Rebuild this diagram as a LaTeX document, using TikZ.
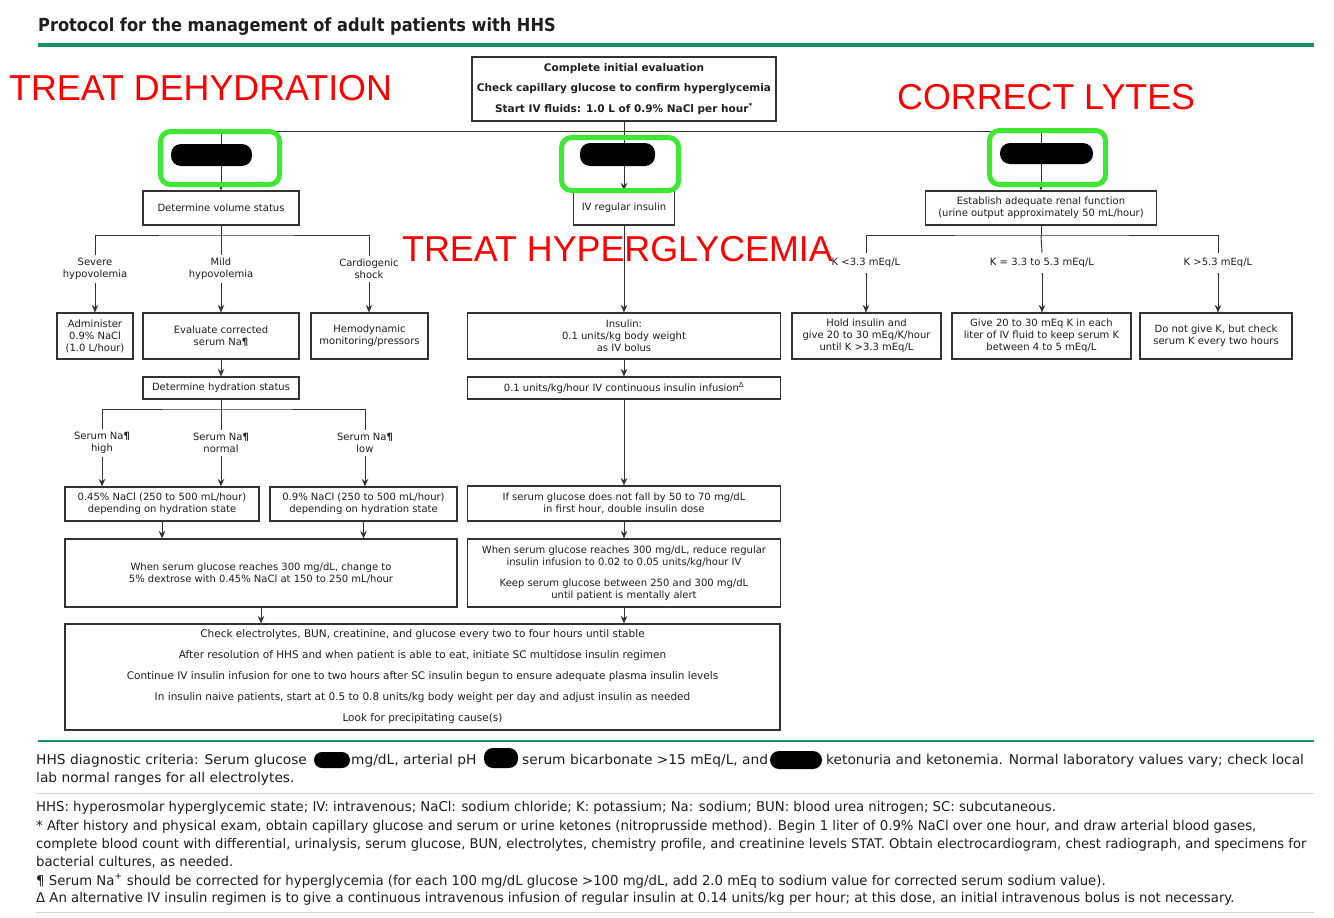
\documentclass[tikz,border=0pt]{standalone}
\usepackage{fontspec}
\setmainfont{DejaVu Sans}
\newfontfamily\footfont[FakeStretch=0.982]{DejaVu Sans}
\newfontfamily\footwidefont[FakeStretch=1.02]{DejaVu Sans}
\newfontfamily\redfont[FakeStretch=0.995]{Liberation Sans}
\newfontfamily\titlefont[FakeStretch=0.9]{DejaVu Sans}
\usetikzlibrary{arrows.meta,calc}
\definecolor{hhsgreen}{RGB}{22,145,105}
\definecolor{hiligreen}{RGB}{60,232,50}
\definecolor{linegray}{RGB}{50,50,50}
\definecolor{sepgray}{RGB}{212,212,212}
\definecolor{txt}{RGB}{30,30,30}
\begin{document}
\begin{tikzpicture}[x=1pt,y=-1pt,
  box/.style={draw=linegray, line width=1.1pt, align=center, inner sep=1pt, text=txt,
    font=\fontsize{10}{12}\selectfont},
  sz/.style 2 args={minimum width=#1pt, minimum height=#2pt},
  lbl/.style={align=center, inner sep=3pt, text=txt, font=\fontsize{10}{12}\selectfont},
  klbl/.style={lbl, inner sep=5pt},
  conn/.style={draw=linegray, line width=0.9pt},
  arr/.style={conn, -{Stealth[length=7.5pt,width=6.5pt]}},
  hili/.style={draw=hiligreen, line width=5pt, rounded corners=10pt},
  redtxt/.style={text=red, inner sep=0pt, anchor=base west, font=\redfont\fontsize{36}{40}\selectfont},
  foot/.style={inner sep=0pt, anchor=base west, text=txt, font=\footfont\fontsize{13.5}{18}\selectfont},
  footw/.style={foot, font=\footwidefont\fontsize{13.5}{18}\selectfont},
]
\useasboundingbox (0,0) rectangle (1334,918);
\fill[white] (0,0) rectangle (1334,918);

% title
\node[inner sep=0pt, anchor=base west, text=txt, font=\titlefont\bfseries\fontsize{18}{20}\selectfont] (title) at (38,31) {Protocol for the management of adult patients with HHS};
\draw[hhsgreen, line width=4pt] (38,44.5) -- (1314,44.5);

% top
\node[box, sz={304}{64}, font=\bfseries\fontsize{10.5}{20.5}\selectfont] (top) at (624,89) {Complete initial evaluation\\Check capillary glucose to confirm hyperglycemia\\Start IV fluids: 1.0 L of 0.9\% NaCl per hour\textsuperscript{*}};

\node[box, sz={156}{34}] (vol) at (221,208) {Determine volume status};
\node[box, sz={101}{34}] (ivr) at (624,208) {IV regular insulin};
\node[box, sz={231}{34}] (renal) at (1041,208) {Establish adequate renal function\\(urine output approximately 50 mL/hour)};

% left column
\node[lbl] (sev) at (95,269) {Severe\\hypovolemia};
\node[lbl] (mild) at (221,269) {Mild\\hypovolemia};
\node[lbl] (card) at (369,269) {Cardiogenic\\shock};
\node[box, sz={76}{46}] (adm) at (95,336) {Administer\\0.9\% NaCl\\(1.0 L/hour)};
\node[box, sz={156}{46}] (eval) at (221,336) {Evaluate corrected\\serum Na{\bfseries ¶}};
\node[box, sz={117}{46}] (hemo) at (369.5,336) {Hemodynamic\\monitoring/pressors};
\node[box, sz={156}{22}] (hyd) at (221,388) {Determine hydration status};
\node[lbl] (hi) at (102,443) {Serum Na{\bfseries ¶}\\high};
\node[lbl] (nor) at (221,443) {Serum Na{\bfseries ¶}\\normal};
\node[lbl] (low) at (365,443) {Serum Na{\bfseries ¶}\\low};
\node[box, sz={194}{34}] (n45) at (162,504) {0.45\% NaCl (250 to 500 mL/hour)\\depending on hydration state};
\node[box, sz={187}{34}] (n9) at (363.5,504) {0.9\% NaCl (250 to 500 mL/hour)\\depending on hydration state};
\node[box, sz={392}{68}] (dex) at (261,573) {When serum glucose reaches 300 mg/dL, change to\\5\% dextrose with 0.45\% NaCl at 150 to 250 mL/hour};

% middle column
\node[box, sz={313}{46}] (ins) at (624,336) {Insulin:\\0.1 units/kg body weight\\as IV bolus};
\node[box, sz={313}{22}] (inf) at (624,388) {0.1 units/kg/hour IV continuous insulin infusion\textsuperscript{Δ}};
\node[box, sz={313}{35}] (glu) at (624,503.5) {If serum glucose does not fall by 50 to 70 mg/dL\\in first hour, double insulin dose};
\node[box, sz={313}{68}] (red) at (624,573) {When serum glucose reaches 300 mg/dL, reduce regular\\insulin infusion to 0.02 to 0.05 units/kg/hour IV\\[9pt]Keep serum glucose between 250 and 300 mg/dL\\until patient is mentally alert};

% bottom
\node[box, sz={715}{106}, font=\fontsize{10.5}{21}\selectfont] (bot) at (422.5,677) {Check electrolytes, BUN, creatinine, and glucose every two to four hours until stable\\After resolution of HHS and when patient is able to eat, initiate SC multidose insulin regimen\\Continue IV insulin infusion for one to two hours after SC insulin begun to ensure adequate plasma insulin levels\\In insulin naive patients, start at 0.5 to 0.8 units/kg body weight per day and adjust insulin as needed\\Look for precipitating cause(s)};

% right column
\node[klbl] (kl) at (866,263) {K <3.3 mEq/L};
\node[klbl] (km) at (1042,263) {K = 3.3 to 5.3 mEq/L};
\node[klbl] (kh) at (1218,263) {K >5.3 mEq/L};
\node[box, sz={149}{46}] (hold) at (866.5,336) {Hold insulin and\\give 20 to 30 mEq/K/hour\\until K >3.3 mEq/L};
\node[box, sz={179}{46}] (give) at (1041.5,336) {Give 20 to 30 mEq K in each\\liter of IV fluid to keep serum K\\between 4 to 5 mEq/L};
\node[box, sz={152}{46}] (dng) at (1216,336) {Do not give K, but check\\serum K every two hours};

% connectors
\coordinate (jl) at (221,131);
\coordinate (jr) at (1041,131);
\draw[conn] (jl) -- (jr);
\draw[arr] (top.south) -- (ivr.north);
\draw[arr] (jl) -- (vol.north);
\draw[arr] (jr) -- (renal.north);

\coordinate (j1) at (221,235);
\draw[conn] (vol.south) -- (j1);
\draw[conn] (sev.north) |- (j1) -| (card.north);
\draw[conn] (j1) -- (mild.north);
\draw[arr] (sev.south) -- (adm.north);
\draw[arr] (mild.south) -- (eval.north);
\draw[arr] (card.south) -- (card.south |- hemo.north);
\draw[arr] (eval.south) -- (hyd.north);
\coordinate (j2) at (221,409);
\draw[conn] (hyd.south) -- (j2);
\draw[conn] (hi.north) |- (j2) -| (low.north);
\draw[conn] (j2) -- (nor.north);
\draw[arr] (hi.south) -- (hi.south |- n45.north);
\draw[arr] (nor.south) -- (nor.south |- n45.north);
\draw[arr] (low.south) -- (low.south |- n9.north);
\draw[arr] (n45.south) -- (n45.south |- dex.north);
\draw[arr] (n9.south) -- (n9.south |- dex.north);
\draw[arr] (dex.south) -- (dex.south |- bot.north);

\draw[arr] (ivr.south) -- (ins.north);
\draw[arr] (ins.south) -- (inf.north);
\draw[arr] (inf.south) -- (glu.north);
\draw[arr] (glu.south) -- (red.north);
\draw[arr] (red.south) -- (red.south |- bot.north);

\coordinate (j3) at (1041,235);
\draw[conn] (renal.south) -- (j3);
\draw[conn] (kl.north) |- (j3) -| (kh.north);
\draw[conn] (j3) -- (km.north);
\draw[arr] (kl.south) -- (kl.south |- hold.north);
\draw[arr] (km.south) -- (km.south |- give.north);
\draw[arr] (kh.south) -- (kh.south |- dng.north);

% highlight boxes and blobs
\draw[hili] (160.5,131.5) rectangle (279.5,184.5);
\draw[hili] (561.5,137.5) rectangle (678.5,190.5);
\draw[hili] (989.5,130.5) rectangle (1105.5,184.5);
\fill[black, rounded corners=10pt] (171,144) rectangle (252,166);
\fill[black, rounded corners=10pt] (580,143) rectangle (655,166);
\fill[black, rounded corners=10pt] (1000,143) rectangle (1093,164);

% red annotations
\node[redtxt] (rd) at (9,100) {TREAT DEHYDRATION};
\node[redtxt] (rl) at (897,109) {CORRECT LYTES};
\node[redtxt] (rh) at (402,261) {TREAT HYPERGLYCEMIA};

% footer
\draw[hhsgreen, line width=2pt] (38,741) -- (1314,741);
\node[footw] (fa) at (36,764) {HHS diagnostic criteria: Serum glucose};
\node[footw] (fb) at (351,764) {mg/dL, arterial pH};
\node[footw] (fc) at (522,764) {serum bicarbonate >15 mEq/L, and};
\node[footw] (fd) at (826,764) {ketonuria and ketonemia. Normal laboratory values vary; check local};
\fill[black, rounded corners=8pt] (314,752) rectangle (350,768);
\fill[black, rounded corners=9pt] (484,748) rectangle (518,768);
\fill[black, rounded corners=9pt] (770,751) rectangle (822,769);
\node[footw] (fe) at (36,782) {lab normal ranges for all electrolytes.};
\draw[sepgray, line width=1pt] (36,793) -- (1314,793);
\node[foot] (f1) at (36,811) {HHS: hyperosmolar hyperglycemic state; IV: intravenous; NaCl: sodium chloride; K: potassium; Na: sodium; BUN: blood urea nitrogen; SC: subcutaneous.};
\node[foot] (f2) at (36,830) {* After history and physical exam, obtain capillary glucose and serum or urine ketones (nitroprusside method). Begin 1 liter of 0.9\% NaCl over one hour, and draw arterial blood gases,};
\node[foot, font=\footfont\fontsize{13.35}{18}\selectfont] (f3) at (36,848) {complete blood count with differential, urinalysis, serum glucose, BUN, electrolytes, chemistry profile, and creatinine levels STAT. Obtain electrocardiogram, chest radiograph, and specimens for};
\node[foot] (f4) at (36,866) {bacterial cultures, as needed.};
\node[foot] (f5) at (36,885) {¶ Serum Na\textsuperscript{+} should be corrected for hyperglycemia (for each 100 mg/dL glucose >100 mg/dL, add 2.0 mEq to sodium value for corrected serum sodium value).};
\node[foot] (f6) at (36,902) {Δ An alternative IV insulin regimen is to give a continuous intravenous infusion of regular insulin at 0.14 units/kg per hour; at this dose, an initial intravenous bolus is not necessary.};
\draw[sepgray, line width=1pt] (36,912) -- (1314,912);
\end{tikzpicture}
\end{document}
